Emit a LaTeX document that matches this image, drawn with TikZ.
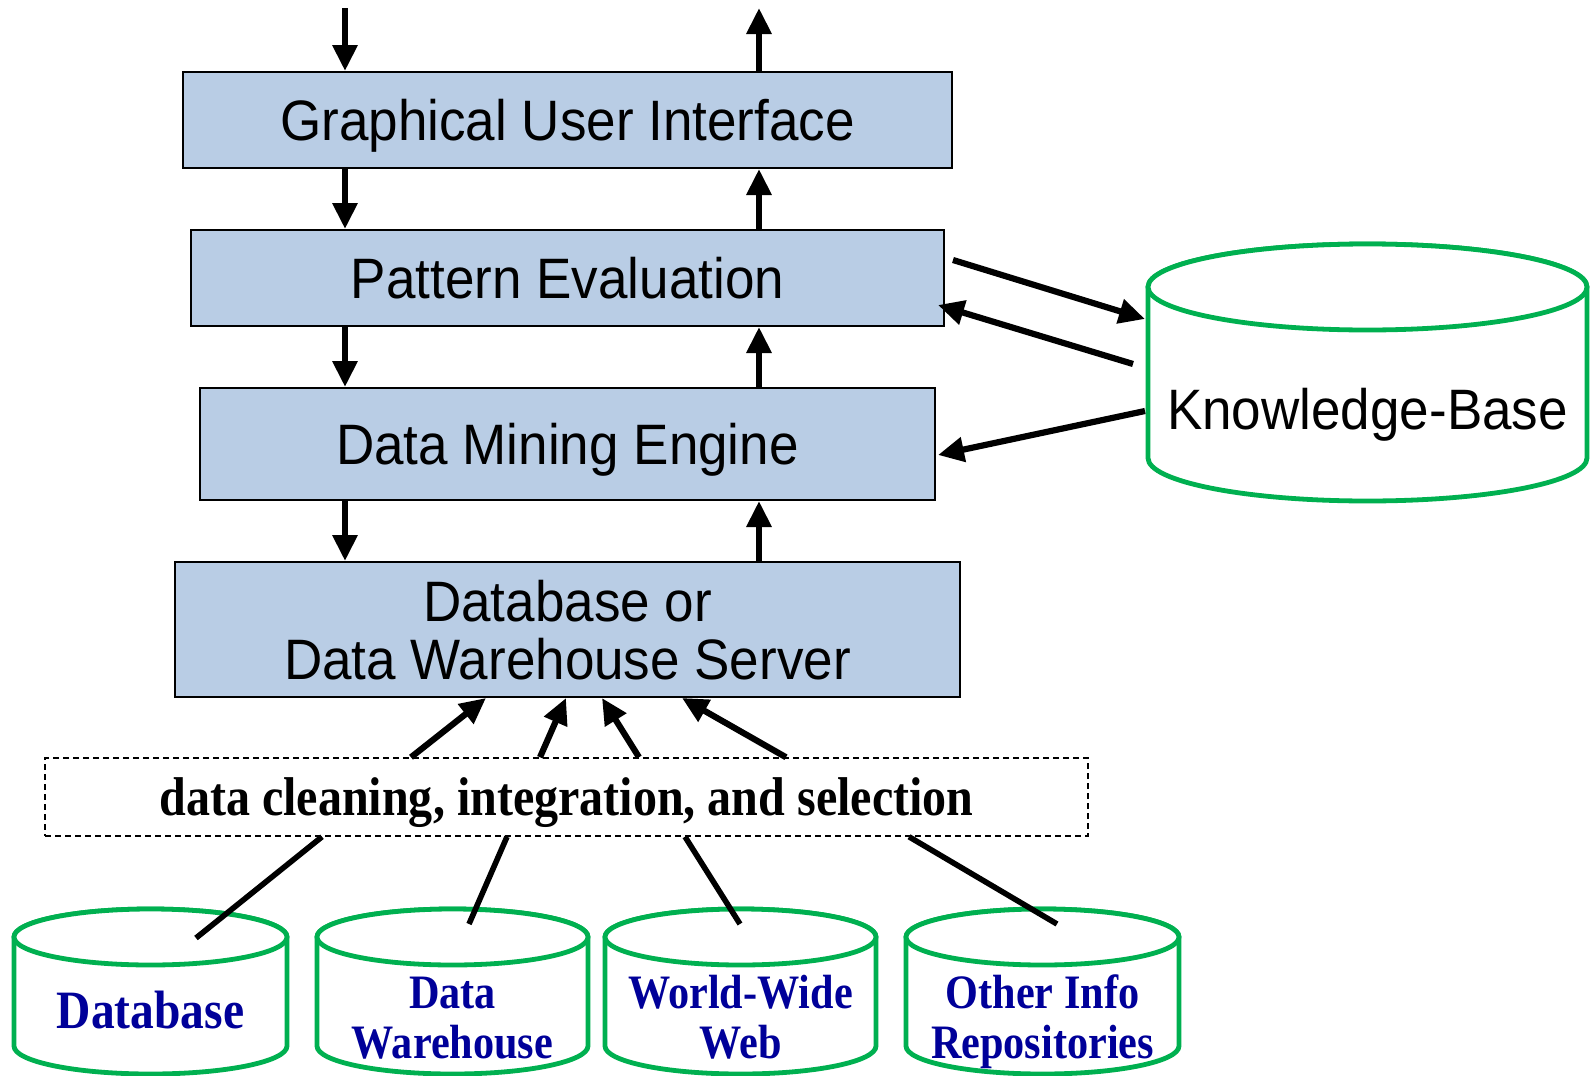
\documentclass[tikz,border=0pt]{standalone}
\usepackage{fontspec}
\setmainfont{Liberation Sans}
\newfontfamily\sansf[FakeStretch=0.93]{Liberation Sans}
\newfontfamily\serifb[FakeStretch=0.88]{Liberation Serif}
\usetikzlibrary{arrows.meta}
\definecolor{boxblue}{HTML}{B9CDE5}
\definecolor{cylgreen}{HTML}{00B050}
\definecolor{navy}{HTML}{000099}
\newcommand{\mycyl}[5]{%
  \pgfmathsetmacro\cx{(#1+#2)/2}%
  \pgfmathsetmacro\rxp{(#2-#1)/4}%
  \pgfmathsetmacro\ryp{#5/2}%
  \pgfmathsetmacro\tc{#3+#5}%
  \pgfmathsetmacro\bc{#4-#5}%
  \draw[cyl] (#1,\tc) -- (#1,\bc) arc[start angle=180,end angle=360,x radius=\rxp pt,y radius=\ryp pt]
     -- (#2,\tc) arc[start angle=0,end angle=180,x radius=\rxp pt,y radius=\ryp pt] -- cycle;
  \draw[cyl] (\cx,\tc) ellipse[x radius=\rxp pt,y radius=\ryp pt];
}
\begin{document}
\begin{tikzpicture}[x=0.5pt,y=-0.5pt,
  layer/.style={draw=black, line width=1pt, fill=boxblue, inner sep=0pt, align=center,
    text depth=0pt, font=\sansf\fontsize{28.5}{29}\selectfont},
  arr/.style={line width=3.1pt, -{Triangle[length=13pt,width=12pt]}},
  feed/.style={line width=2.8pt},
  cyl/.style={draw=cylgreen, line width=2.4pt, fill=white},
  srclabel/.style={font=\serifb\bfseries\fontsize{24}{24}\selectfont, text=navy, anchor=base, inner sep=0pt},
  biglabel/.style={font=\serifb\bfseries\fontsize{27}{27}\selectfont, text=navy, anchor=base, inner sep=0pt},
  kblabel/.style={font=\sansf\fontsize{28.5}{29}\selectfont, anchor=base, inner sep=0pt},
  stage/.style={draw=black, line width=0.75pt, dash pattern=on 3pt off 2pt, inner sep=0pt,
    text depth=0pt, font=\serifb\bfseries\fontsize{27.3}{28}\selectfont},
]
\useasboundingbox (0,0) rectangle (1596,1076);
\fill[white] (0,0) rectangle (1596,1076);

% layers
\node[layer, minimum width=384.5pt, minimum height=48pt] (gui) at (567.5,120) {Graphical User Interface};
\node[layer, minimum width=376.5pt, minimum height=48pt] (pe) at (567.5,278) {Pattern Evaluation};
\node[layer, minimum width=367.5pt, minimum height=56pt] (dme) at (567.5,444) {Data Mining Engine};
\node[layer, minimum width=392.5pt, minimum height=67.5pt] (srv) at (567.5,629.5) {Database or\\Data Warehouse Server};
\node[stage, minimum width=521.5pt, minimum height=39pt] (clean) at (566.5,797) {data cleaning, integration, and selection};

% knowledge base
\mycyl{1148}{1587}{244}{501}{43}
\node[kblabel] (kb) at (1367.5,429) {Knowledge-Base};

% sources
\mycyl{14}{287}{909}{1074}{28}
\mycyl{317}{588}{909}{1074}{28}
\mycyl{605}{876}{909}{1074}{28}
\mycyl{906}{1179}{909}{1074}{28}
\node[biglabel] (db) at (150.5,1028) {Database};
\node[srclabel] (dw1) at (452.5,1008) {Data};
\node[srclabel] (dw2) at (452.5,1058) {Warehouse};
\node[srclabel] (www1) at (740.5,1008) {World-Wide};
\node[srclabel] (www2) at (740.5,1058) {Web};
\node[srclabel] (oth1) at (1042.5,1008) {Other Info};
\node[srclabel] (oth2) at (1042.5,1058) {Repositories};

% vertical flow
\coordinate (inTop) at (345,8);
\coordinate (outTop) at (759,8);
\draw[arr] (inTop) -- (inTop |- gui.north);
\draw[arr] (outTop |- gui.north) -- (outTop);
\draw[arr] (inTop |- gui.south) -- (inTop |- pe.north);
\draw[arr] (outTop |- pe.north) -- (outTop |- gui.south);
\draw[arr] (inTop |- pe.south) -- (inTop |- dme.north);
\draw[arr] (outTop |- dme.north) -- (outTop |- pe.south);
\draw[arr] (inTop |- dme.south) -- (inTop |- srv.north);
\draw[arr] (outTop |- srv.north) -- (outTop |- dme.south);

% knowledge base links
\coordinate (pe1) at (953,260);
\coordinate (kb1) at (1145,319);
\coordinate (kb2) at (1133,364);
\coordinate (pe2) at (938,305);
\coordinate (kb3) at (1145,411);
\coordinate (dme1) at (938,455);
\draw[arr] (pe1) -- (kb1);
\draw[arr] (kb2) -- (pe2);
\draw[arr] (kb3) -- (dme1);

% cleaning -> server
\draw[arr] (clean.north -| 411,0) -- (srv.south -| 486,0);
\draw[arr] (clean.north -| 540,0) -- (srv.south -| 566,0);
\draw[arr] (clean.north -| 639,0) -- (srv.south -| 602,0);
\draw[arr] (clean.north -| 786,0) -- (srv.south -| 682,0);

% sources -> cleaning
\coordinate (s1) at (196,938);
\coordinate (s2) at (469,924);
\coordinate (s3) at (740,924);
\coordinate (s4) at (1057,924);
\draw[feed] (s1) -- (clean.south -| 322,0);
\draw[feed] (s2) -- (clean.south -| 507,0);
\draw[feed] (s3) -- (clean.south -| 685,0);
\draw[feed] (s4) -- (clean.south -| 909,0);
\end{tikzpicture}
\end{document}
